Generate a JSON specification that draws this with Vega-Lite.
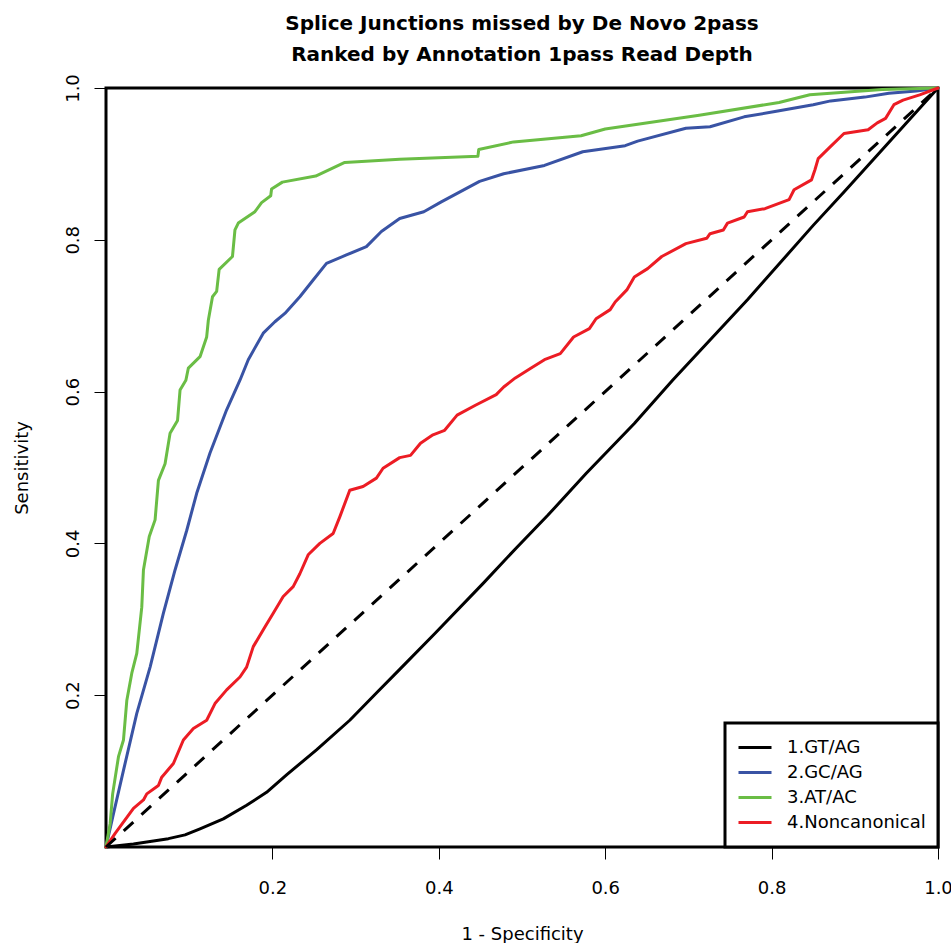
{
  "$schema": "https://vega.github.io/schema/vega-lite/v6.json",
  "width": 832,
  "height": 759,
  "autosize": {"type": "none"},
  "padding": {"left": 106, "top": 88, "right": 13, "bottom": 96},
  "background": "white",
  "title": {
    "text": ["Splice Junctions missed by De Novo 2pass", "Ranked by Annotation 1pass Read Depth"],
    "font": "DejaVu Sans",
    "fontSize": 20,
    "fontWeight": "bold",
    "color": "black",
    "anchor": "middle",
    "offset": 9,
    "lineHeight": 31
  },
  "datasets": {
    "roc": [
      {"series": "1.GT/AG", "fpr": 0, "tpr": 0},
      {"series": "1.GT/AG", "fpr": 0.033, "tpr": 0.004},
      {"series": "1.GT/AG", "fpr": 0.057, "tpr": 0.008},
      {"series": "1.GT/AG", "fpr": 0.075, "tpr": 0.011},
      {"series": "1.GT/AG", "fpr": 0.095, "tpr": 0.016},
      {"series": "1.GT/AG", "fpr": 0.113, "tpr": 0.024},
      {"series": "1.GT/AG", "fpr": 0.141, "tpr": 0.037},
      {"series": "1.GT/AG", "fpr": 0.169, "tpr": 0.055},
      {"series": "1.GT/AG", "fpr": 0.193, "tpr": 0.072},
      {"series": "1.GT/AG", "fpr": 0.217, "tpr": 0.095},
      {"series": "1.GT/AG", "fpr": 0.253, "tpr": 0.128},
      {"series": "1.GT/AG", "fpr": 0.293, "tpr": 0.167},
      {"series": "1.GT/AG", "fpr": 0.325, "tpr": 0.203},
      {"series": "1.GT/AG", "fpr": 0.353, "tpr": 0.234},
      {"series": "1.GT/AG", "fpr": 0.395, "tpr": 0.281},
      {"series": "1.GT/AG", "fpr": 0.453, "tpr": 0.347},
      {"series": "1.GT/AG", "fpr": 0.494, "tpr": 0.395},
      {"series": "1.GT/AG", "fpr": 0.531, "tpr": 0.437},
      {"series": "1.GT/AG", "fpr": 0.577, "tpr": 0.492},
      {"series": "1.GT/AG", "fpr": 0.635, "tpr": 0.558},
      {"series": "1.GT/AG", "fpr": 0.681, "tpr": 0.615},
      {"series": "1.GT/AG", "fpr": 0.771, "tpr": 0.721},
      {"series": "1.GT/AG", "fpr": 0.850, "tpr": 0.819},
      {"series": "1.GT/AG", "fpr": 0.887, "tpr": 0.863},
      {"series": "1.GT/AG", "fpr": 1, "tpr": 1},

      {"series": "2.GC/AG", "fpr": 0, "tpr": 0},
      {"series": "2.GC/AG", "fpr": 0.009, "tpr": 0.044},
      {"series": "2.GC/AG", "fpr": 0.021, "tpr": 0.101},
      {"series": "2.GC/AG", "fpr": 0.037, "tpr": 0.176},
      {"series": "2.GC/AG", "fpr": 0.053, "tpr": 0.237},
      {"series": "2.GC/AG", "fpr": 0.069, "tpr": 0.308},
      {"series": "2.GC/AG", "fpr": 0.083, "tpr": 0.365},
      {"series": "2.GC/AG", "fpr": 0.097, "tpr": 0.417},
      {"series": "2.GC/AG", "fpr": 0.109, "tpr": 0.466},
      {"series": "2.GC/AG", "fpr": 0.125, "tpr": 0.519},
      {"series": "2.GC/AG", "fpr": 0.145, "tpr": 0.576},
      {"series": "2.GC/AG", "fpr": 0.161, "tpr": 0.615},
      {"series": "2.GC/AG", "fpr": 0.171, "tpr": 0.642},
      {"series": "2.GC/AG", "fpr": 0.189, "tpr": 0.677},
      {"series": "2.GC/AG", "fpr": 0.203, "tpr": 0.692},
      {"series": "2.GC/AG", "fpr": 0.215, "tpr": 0.703},
      {"series": "2.GC/AG", "fpr": 0.233, "tpr": 0.725},
      {"series": "2.GC/AG", "fpr": 0.249, "tpr": 0.747},
      {"series": "2.GC/AG", "fpr": 0.265, "tpr": 0.769},
      {"series": "2.GC/AG", "fpr": 0.289, "tpr": 0.780},
      {"series": "2.GC/AG", "fpr": 0.313, "tpr": 0.791},
      {"series": "2.GC/AG", "fpr": 0.331, "tpr": 0.811},
      {"series": "2.GC/AG", "fpr": 0.353, "tpr": 0.828},
      {"series": "2.GC/AG", "fpr": 0.382, "tpr": 0.837},
      {"series": "2.GC/AG", "fpr": 0.403, "tpr": 0.850},
      {"series": "2.GC/AG", "fpr": 0.449, "tpr": 0.877},
      {"series": "2.GC/AG", "fpr": 0.478, "tpr": 0.887},
      {"series": "2.GC/AG", "fpr": 0.527, "tpr": 0.898},
      {"series": "2.GC/AG", "fpr": 0.573, "tpr": 0.916},
      {"series": "2.GC/AG", "fpr": 0.624, "tpr": 0.924},
      {"series": "2.GC/AG", "fpr": 0.639, "tpr": 0.930},
      {"series": "2.GC/AG", "fpr": 0.697, "tpr": 0.947},
      {"series": "2.GC/AG", "fpr": 0.726, "tpr": 0.949},
      {"series": "2.GC/AG", "fpr": 0.767, "tpr": 0.962},
      {"series": "2.GC/AG", "fpr": 0.804, "tpr": 0.969},
      {"series": "2.GC/AG", "fpr": 0.850, "tpr": 0.978},
      {"series": "2.GC/AG", "fpr": 0.871, "tpr": 0.983},
      {"series": "2.GC/AG", "fpr": 0.912, "tpr": 0.988},
      {"series": "2.GC/AG", "fpr": 0.941, "tpr": 0.993},
      {"series": "2.GC/AG", "fpr": 0.974, "tpr": 0.996},
      {"series": "2.GC/AG", "fpr": 1, "tpr": 1},

      {"series": "3.AT/AC", "fpr": 0, "tpr": 0},
      {"series": "3.AT/AC", "fpr": 0.005, "tpr": 0.031},
      {"series": "3.AT/AC", "fpr": 0.008, "tpr": 0.070},
      {"series": "3.AT/AC", "fpr": 0.015, "tpr": 0.119},
      {"series": "3.AT/AC", "fpr": 0.021, "tpr": 0.141},
      {"series": "3.AT/AC", "fpr": 0.025, "tpr": 0.193},
      {"series": "3.AT/AC", "fpr": 0.031, "tpr": 0.229},
      {"series": "3.AT/AC", "fpr": 0.037, "tpr": 0.255},
      {"series": "3.AT/AC", "fpr": 0.043, "tpr": 0.316},
      {"series": "3.AT/AC", "fpr": 0.045, "tpr": 0.365},
      {"series": "3.AT/AC", "fpr": 0.052, "tpr": 0.409},
      {"series": "3.AT/AC", "fpr": 0.059, "tpr": 0.431},
      {"series": "3.AT/AC", "fpr": 0.063, "tpr": 0.483},
      {"series": "3.AT/AC", "fpr": 0.071, "tpr": 0.505},
      {"series": "3.AT/AC", "fpr": 0.077, "tpr": 0.545},
      {"series": "3.AT/AC", "fpr": 0.086, "tpr": 0.562},
      {"series": "3.AT/AC", "fpr": 0.089, "tpr": 0.602},
      {"series": "3.AT/AC", "fpr": 0.096, "tpr": 0.615},
      {"series": "3.AT/AC", "fpr": 0.099, "tpr": 0.631},
      {"series": "3.AT/AC", "fpr": 0.113, "tpr": 0.646},
      {"series": "3.AT/AC", "fpr": 0.121, "tpr": 0.672},
      {"series": "3.AT/AC", "fpr": 0.123, "tpr": 0.694},
      {"series": "3.AT/AC", "fpr": 0.128, "tpr": 0.725},
      {"series": "3.AT/AC", "fpr": 0.133, "tpr": 0.732},
      {"series": "3.AT/AC", "fpr": 0.136, "tpr": 0.761},
      {"series": "3.AT/AC", "fpr": 0.152, "tpr": 0.778},
      {"series": "3.AT/AC", "fpr": 0.155, "tpr": 0.813},
      {"series": "3.AT/AC", "fpr": 0.159, "tpr": 0.822},
      {"series": "3.AT/AC", "fpr": 0.179, "tpr": 0.837},
      {"series": "3.AT/AC", "fpr": 0.187, "tpr": 0.849},
      {"series": "3.AT/AC", "fpr": 0.198, "tpr": 0.858},
      {"series": "3.AT/AC", "fpr": 0.199, "tpr": 0.867},
      {"series": "3.AT/AC", "fpr": 0.212, "tpr": 0.876},
      {"series": "3.AT/AC", "fpr": 0.252, "tpr": 0.884},
      {"series": "3.AT/AC", "fpr": 0.287, "tpr": 0.902},
      {"series": "3.AT/AC", "fpr": 0.353, "tpr": 0.906},
      {"series": "3.AT/AC", "fpr": 0.447, "tpr": 0.910},
      {"series": "3.AT/AC", "fpr": 0.448, "tpr": 0.919},
      {"series": "3.AT/AC", "fpr": 0.490, "tpr": 0.929},
      {"series": "3.AT/AC", "fpr": 0.571, "tpr": 0.937},
      {"series": "3.AT/AC", "fpr": 0.600, "tpr": 0.946},
      {"series": "3.AT/AC", "fpr": 0.713, "tpr": 0.964},
      {"series": "3.AT/AC", "fpr": 0.809, "tpr": 0.981},
      {"series": "3.AT/AC", "fpr": 0.846, "tpr": 0.991},
      {"series": "3.AT/AC", "fpr": 0.933, "tpr": 0.998},
      {"series": "3.AT/AC", "fpr": 1, "tpr": 1},

      {"series": "4.Noncanonical", "fpr": 0, "tpr": 0},
      {"series": "4.Noncanonical", "fpr": 0.011, "tpr": 0.018},
      {"series": "4.Noncanonical", "fpr": 0.033, "tpr": 0.051},
      {"series": "4.Noncanonical", "fpr": 0.045, "tpr": 0.062},
      {"series": "4.Noncanonical", "fpr": 0.049, "tpr": 0.070},
      {"series": "4.Noncanonical", "fpr": 0.063, "tpr": 0.081},
      {"series": "4.Noncanonical", "fpr": 0.067, "tpr": 0.092},
      {"series": "4.Noncanonical", "fpr": 0.081, "tpr": 0.110},
      {"series": "4.Noncanonical", "fpr": 0.093, "tpr": 0.141},
      {"series": "4.Noncanonical", "fpr": 0.105, "tpr": 0.156},
      {"series": "4.Noncanonical", "fpr": 0.121, "tpr": 0.167},
      {"series": "4.Noncanonical", "fpr": 0.131, "tpr": 0.189},
      {"series": "4.Noncanonical", "fpr": 0.145, "tpr": 0.207},
      {"series": "4.Noncanonical", "fpr": 0.161, "tpr": 0.224},
      {"series": "4.Noncanonical", "fpr": 0.169, "tpr": 0.237},
      {"series": "4.Noncanonical", "fpr": 0.177, "tpr": 0.264},
      {"series": "4.Noncanonical", "fpr": 0.191, "tpr": 0.290},
      {"series": "4.Noncanonical", "fpr": 0.201, "tpr": 0.308},
      {"series": "4.Noncanonical", "fpr": 0.213, "tpr": 0.330},
      {"series": "4.Noncanonical", "fpr": 0.225, "tpr": 0.343},
      {"series": "4.Noncanonical", "fpr": 0.233, "tpr": 0.360},
      {"series": "4.Noncanonical", "fpr": 0.243, "tpr": 0.385},
      {"series": "4.Noncanonical", "fpr": 0.257, "tpr": 0.400},
      {"series": "4.Noncanonical", "fpr": 0.273, "tpr": 0.413},
      {"series": "4.Noncanonical", "fpr": 0.281, "tpr": 0.435},
      {"series": "4.Noncanonical", "fpr": 0.293, "tpr": 0.470},
      {"series": "4.Noncanonical", "fpr": 0.309, "tpr": 0.475},
      {"series": "4.Noncanonical", "fpr": 0.325, "tpr": 0.486},
      {"series": "4.Noncanonical", "fpr": 0.333, "tpr": 0.499},
      {"series": "4.Noncanonical", "fpr": 0.353, "tpr": 0.513},
      {"series": "4.Noncanonical", "fpr": 0.366, "tpr": 0.516},
      {"series": "4.Noncanonical", "fpr": 0.378, "tpr": 0.532},
      {"series": "4.Noncanonical", "fpr": 0.393, "tpr": 0.543},
      {"series": "4.Noncanonical", "fpr": 0.407, "tpr": 0.549},
      {"series": "4.Noncanonical", "fpr": 0.422, "tpr": 0.569},
      {"series": "4.Noncanonical", "fpr": 0.444, "tpr": 0.582},
      {"series": "4.Noncanonical", "fpr": 0.469, "tpr": 0.596},
      {"series": "4.Noncanonical", "fpr": 0.478, "tpr": 0.606},
      {"series": "4.Noncanonical", "fpr": 0.492, "tpr": 0.618},
      {"series": "4.Noncanonical", "fpr": 0.511, "tpr": 0.631},
      {"series": "4.Noncanonical", "fpr": 0.527, "tpr": 0.642},
      {"series": "4.Noncanonical", "fpr": 0.546, "tpr": 0.650},
      {"series": "4.Noncanonical", "fpr": 0.562, "tpr": 0.672},
      {"series": "4.Noncanonical", "fpr": 0.581, "tpr": 0.683},
      {"series": "4.Noncanonical", "fpr": 0.589, "tpr": 0.696},
      {"series": "4.Noncanonical", "fpr": 0.606, "tpr": 0.708},
      {"series": "4.Noncanonical", "fpr": 0.612, "tpr": 0.718},
      {"series": "4.Noncanonical", "fpr": 0.626, "tpr": 0.734},
      {"series": "4.Noncanonical", "fpr": 0.635, "tpr": 0.751},
      {"series": "4.Noncanonical", "fpr": 0.651, "tpr": 0.762},
      {"series": "4.Noncanonical", "fpr": 0.668, "tpr": 0.778},
      {"series": "4.Noncanonical", "fpr": 0.697, "tpr": 0.795},
      {"series": "4.Noncanonical", "fpr": 0.722, "tpr": 0.802},
      {"series": "4.Noncanonical", "fpr": 0.726, "tpr": 0.808},
      {"series": "4.Noncanonical", "fpr": 0.742, "tpr": 0.813},
      {"series": "4.Noncanonical", "fpr": 0.747, "tpr": 0.822},
      {"series": "4.Noncanonical", "fpr": 0.767, "tpr": 0.830},
      {"series": "4.Noncanonical", "fpr": 0.771, "tpr": 0.837},
      {"series": "4.Noncanonical", "fpr": 0.792, "tpr": 0.841},
      {"series": "4.Noncanonical", "fpr": 0.821, "tpr": 0.853},
      {"series": "4.Noncanonical", "fpr": 0.827, "tpr": 0.866},
      {"series": "4.Noncanonical", "fpr": 0.848, "tpr": 0.879},
      {"series": "4.Noncanonical", "fpr": 0.852, "tpr": 0.892},
      {"series": "4.Noncanonical", "fpr": 0.856, "tpr": 0.907},
      {"series": "4.Noncanonical", "fpr": 0.871, "tpr": 0.923},
      {"series": "4.Noncanonical", "fpr": 0.887, "tpr": 0.940},
      {"series": "4.Noncanonical", "fpr": 0.916, "tpr": 0.945},
      {"series": "4.Noncanonical", "fpr": 0.927, "tpr": 0.954},
      {"series": "4.Noncanonical", "fpr": 0.937, "tpr": 0.960},
      {"series": "4.Noncanonical", "fpr": 0.947, "tpr": 0.978},
      {"series": "4.Noncanonical", "fpr": 0.958, "tpr": 0.984},
      {"series": "4.Noncanonical", "fpr": 0.978, "tpr": 0.991},
      {"series": "4.Noncanonical", "fpr": 1, "tpr": 1}
    ],
    "diag": [
      {"fpr": 0, "tpr": 0},
      {"fpr": 1, "tpr": 1}
    ]
  },
  "layer": [
    {
      "data": {"name": "roc"},
      "mark": {"type": "line", "strokeWidth": 3, "strokeJoin": "round", "strokeCap": "round"},
      "encoding": {
        "x": {
          "field": "fpr",
          "type": "quantitative",
          "title": "1 - Specificity",
          "scale": {"domain": [0, 1], "nice": false, "zero": false},
          "axis": {
            "values": [0.2, 0.4, 0.6, 0.8, 1.0],
            "format": ".1f",
            "labelFlush": false,
            "labelOverlap": false,
            "labelPadding": 20,
            "titlePadding": 28
          }
        },
        "y": {
          "field": "tpr",
          "type": "quantitative",
          "title": "Sensitivity",
          "scale": {"domain": [0, 1], "nice": false, "zero": false},
          "axis": {
            "values": [0.2, 0.4, 0.6, 0.8, 1.0],
            "format": ".1f",
            "labelAngle": 270,
            "labelAlign": "center",
            "labelBaseline": "bottom",
            "labelFlush": false,
            "labelOverlap": false,
            "labelPadding": 12,
            "titlePadding": 33
          }
        },
        "color": {
          "field": "series",
          "type": "nominal",
          "scale": {
            "domain": ["1.GT/AG", "2.GC/AG", "3.AT/AC", "4.Noncanonical"],
            "range": ["#000000", "#3953a4", "#6abd45", "#ec1c24"]
          },
          "legend": {
            "title": null,
            "orient": "bottom-right",
            "offset": 0,
            "padding": 12,
            "fillColor": "white",
            "strokeColor": "black",
            "symbolType": "stroke",
            "symbolSize": 1089,
            "symbolStrokeWidth": 3,
            "labelFont": "DejaVu Sans",
            "labelFontSize": 18,
            "labelColor": "black",
            "labelOffset": 14,
            "clipHeight": 25,
            "rowPadding": 0,
            "encode": {"legend": {"update": {"strokeWidth": {"value": 3}}}}
          }
        }
      }
    },
    {
      "data": {"name": "diag"},
      "mark": {"type": "line", "strokeWidth": 3, "color": "black", "strokeDash": [13, 11]},
      "encoding": {
        "x": {"field": "fpr", "type": "quantitative"},
        "y": {"field": "tpr", "type": "quantitative"}
      }
    }
  ],
  "config": {
    "font": "DejaVu Sans",
    "view": {"stroke": "black", "strokeWidth": 3},
    "axis": {
      "domain": false,
      "grid": false,
      "ticks": true,
      "tickColor": "black",
      "tickWidth": 1,
      "tickSize": 12,
      "labelFont": "DejaVu Sans",
      "labelFontSize": 18,
      "labelColor": "black",
      "titleFont": "DejaVu Sans",
      "titleFontSize": 18,
      "titleFontWeight": "normal",
      "titleColor": "black"
    }
  }
}
